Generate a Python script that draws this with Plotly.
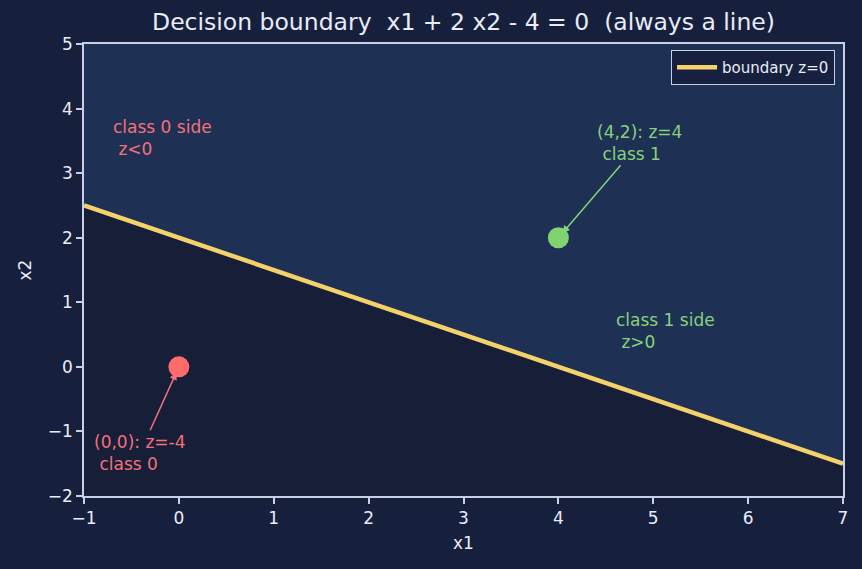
import numpy as np
import plotly.graph_objects as go

# data
x_range = [-1, 7]
y_range = [-2, 5]
w = [1, 2]
b = -4
points_x = [0, 4]
points_y = [0, 2]
point_colors = ["#ff6b6b", "#7fd46f"]
x_ticks = [-1, 0, 1, 2, 3, 4, 5, 6, 7]
y_ticks = [-2, -1, 0, 1, 2, 3, 4, 5]

def boundary(x1):
    return (-b - w[0] * x1) / w[1]

xl = np.array(x_range, dtype=float)
yl = boundary(xl)

PAPER = "#16203d"
UPPER = "#1e3053"
LOWER = "#161e38"
TXT = "#e8ecf6"
SPINE = "#c8d0e6"
GOLD = "#f5d16a"
RED = "#f4707a"
GREEN = "#86d27c"

fig = go.Figure()
# upper (class 1) region
fig.add_trace(go.Scatter(x=[xl[0], xl[1], xl[1], xl[0]],
                         y=[yl[0], yl[1], y_range[1], y_range[1]],
                         fill="toself", fillcolor=UPPER, line=dict(width=0),
                         mode="lines", hoverinfo="skip", showlegend=False))
# lower (class 0) region
fig.add_trace(go.Scatter(x=[xl[0], xl[1], xl[1], xl[0]],
                         y=[yl[0], yl[1], y_range[0], y_range[0]],
                         fill="toself", fillcolor=LOWER, line=dict(width=0),
                         mode="lines", hoverinfo="skip", showlegend=False))
fig.add_trace(go.Scatter(x=xl, y=yl, mode="lines", name="boundary z=0",
                         line=dict(color=GOLD, width=4.5)))
fig.add_trace(go.Scatter(x=points_x, y=points_y, mode="markers",
                         marker=dict(color=point_colors, size=21, line=dict(width=0)),
                         showlegend=False))

font_ann = dict(family="DejaVu Sans", size=17)
fig.add_annotation(x=0, y=0, ax=-0.41, ay=-1.33, axref="x", ayref="y", xref="x", yref="y",
                   text="(0,0): z=-4<br>\u00a0class 0", align="left", showarrow=True,
                   arrowhead=2, arrowsize=1, arrowwidth=1.5, arrowcolor=RED, standoff=6,
                   font=dict(color=RED, **font_ann))
fig.add_annotation(x=4, y=2, ax=4.86, ay=3.47, axref="x", ayref="y", xref="x", yref="y",
                   text="(4,2): z=4<br>\u00a0class 1", align="left", showarrow=True,
                   arrowhead=2, arrowsize=1, arrowwidth=1.5, arrowcolor=GREEN, standoff=6,
                   font=dict(color=GREEN, **font_ann))
fig.add_annotation(x=-0.17, y=3.55, xref="x", yref="y", showarrow=False,
                   text="class 0 side<br>\u00a0z<0", align="left",
                   font=dict(color=RED, **font_ann))
fig.add_annotation(x=5.13, y=0.56, xref="x", yref="y", showarrow=False,
                   text="class 1 side<br>\u00a0z>0", align="left",
                   font=dict(color=GREEN, **font_ann))

axis_common = dict(showline=True, linecolor=SPINE, linewidth=1.5, mirror=True,
                   ticks="outside", ticklen=6, tickwidth=1.5, tickcolor=SPINE,
                   showgrid=False, zeroline=False,
                   tickfont=dict(family="DejaVu Sans", size=17, color=TXT),
                   title_font=dict(family="DejaVu Sans", size=17, color=TXT))
fig.update_xaxes(range=x_range, tickvals=x_ticks,
                 ticktext=[str(v).replace("-", "\u2212") for v in x_ticks],
                 title_text="x1", title_standoff=10, **axis_common)
fig.update_yaxes(range=y_range, tickvals=y_ticks,
                 ticktext=[str(v).replace("-", "\u2212") for v in y_ticks],
                 title_text="x2", title_standoff=12, **axis_common)

fig.update_layout(
    width=862, height=569,
    paper_bgcolor=PAPER, plot_bgcolor=LOWER,
    margin=dict(l=84, r=19, t=44, b=73),
    title=dict(text="Decision boundary  x1 + 2 x2 - 4 = 0  (always a line)",
               x=0.5, xanchor="center", xref="paper", y=1 - 22 / 569, yref="container",
               yanchor="middle", font=dict(family="DejaVu Sans", size=23.5, color=TXT)),
    legend=dict(x=0.9895, y=0.987, xanchor="right", yanchor="top",
                bgcolor="rgba(23,33,62,0.92)", bordercolor=SPINE, borderwidth=1,
                itemwidth=40, tracegroupgap=0,
                font=dict(family="DejaVu Sans", size=15, color=TXT)),
    showlegend=True,
)

fig.write_html("out.html")
